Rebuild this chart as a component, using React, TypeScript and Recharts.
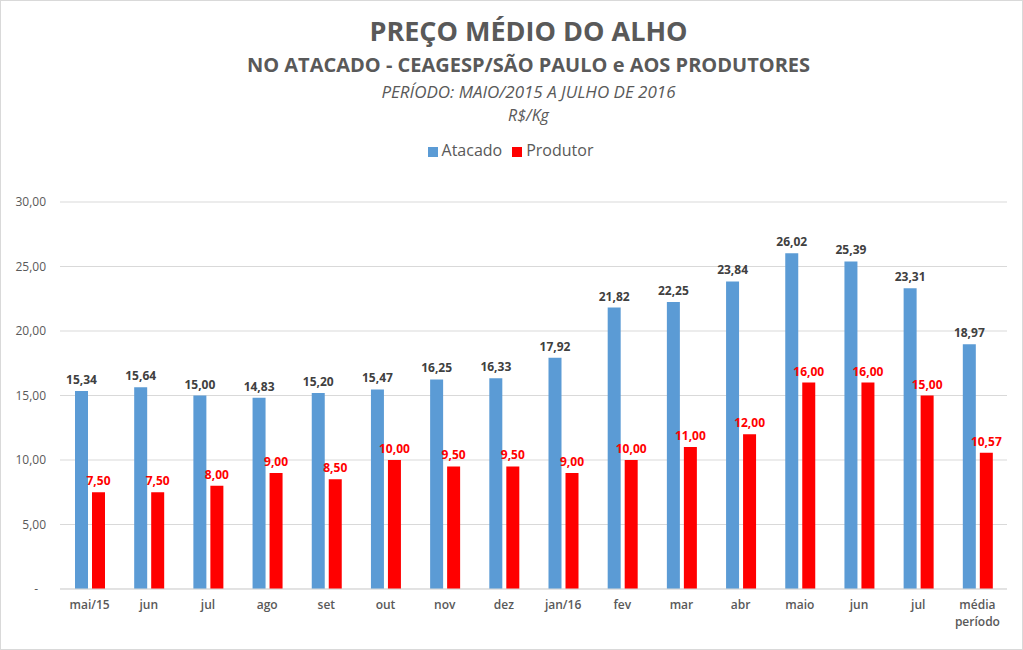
import React from "react";
import {
  BarChart,
  Bar,
  XAxis,
  YAxis,
  CartesianGrid,
  Legend,
  LabelList,
} from "recharts";

// meses do período (a última coluna é a média)
const categories = [
  "mai/15", "jun", "jul", "ago", "set", "out", "nov", "dez",
  "jan/16", "fev", "mar", "abr", "maio", "jun", "jul", "média período",
];
const atacado = [
  15.34, 15.64, 15.0, 14.83, 15.2, 15.47, 16.25, 16.33,
  17.92, 21.82, 22.25, 23.84, 26.02, 25.39, 23.31, 18.97,
];
const produtor = [
  7.5, 7.5, 8.0, 9.0, 8.5, 10.0, 9.5, 9.5,
  9.0, 10.0, 11.0, 12.0, 16.0, 16.0, 15.0, 10.57,
];
const yTicks = [0, 5, 10, 15, 20, 25, 30];

const data = categories.map((mes, i) => ({
  mes,
  Atacado: atacado[i],
  Produtor: produtor[i],
}));

const FONT = "'Open Sans', 'Noto Sans', sans-serif";
const GRAY = "#595959";

const fmt = (v: number) => v.toFixed(2).replace(".", ",");

const YTick = (props: any) => {
  const { x, y, payload } = props;
  const v = payload.value as number;
  return (
    <text
      x={v === 0 ? x - 8 : x}
      y={y}
      dy={4}
      textAnchor="end"
      fontSize={12}
      fill={GRAY}
      fontFamily={FONT}
    >
      {v === 0 ? "-" : fmt(v)}
    </text>
  );
};

const XTick = (props: any) => {
  const { x, y, payload } = props;
  const lines = String(payload.value).split(" ");
  return (
    <text
      x={x}
      y={y}
      textAnchor="middle"
      fontSize={12}
      fontWeight={600}
      fill={GRAY}
      fontFamily={FONT}
    >
      {lines.map((l, i) => (
        <tspan key={i} x={x} dy={i === 0 ? 12 : 17}>
          {l}
        </tspan>
      ))}
    </text>
  );
};

export default function App() {
  return (
    <div
      style={{
        position: "absolute",
        left: 0,
        top: 0,
        width: 1023,
        height: 650,
        boxSizing: "border-box",
        border: "1px solid #d9d9d9",
        background: "#fff",
        fontFamily: FONT,
        color: GRAY,
      }}
    >
      <div
        style={{
          position: "absolute",
          top: 11,
          left: 32,
          width: 991,
          textAlign: "center",
        }}
      >
        <div style={{ fontSize: 27, fontWeight: 700, lineHeight: "38px" }}>
          PREÇO MÉDIO DO ALHO
        </div>
        <div style={{ fontSize: 20, fontWeight: 700, lineHeight: "30px" }}>
          NO ATACADO - CEAGESP/SÃO PAULO e AOS PRODUTORES
        </div>
        <div style={{ fontSize: 17, fontStyle: "italic", lineHeight: "24px" }}>
          PERÍODO: MAIO/2015 A JULHO DE 2016
        </div>
        <div style={{ fontSize: 16, fontStyle: "italic", lineHeight: "22px" }}>
          R$/Kg
        </div>
      </div>
      <div style={{ position: "absolute", left: -1, top: -1 }}>
        <BarChart
          width={1023}
          height={650}
          data={data}
          margin={{ top: 180, right: 16, bottom: 21, left: 0 }}
          barSize={13}
          barGap={4}
        >
          <CartesianGrid vertical={false} stroke="#d9d9d9" />
          <XAxis
            dataKey="mes"
            axisLine={{ stroke: "#d9d9d9" }}
            tickLine={false}
            height={40}
            interval={0}
            tick={<XTick />}
          />
          <YAxis
            domain={[0, 30]}
            ticks={yTicks}
            width={60}
            axisLine={false}
            tickLine={false}
            tickMargin={8}
            tick={<YTick />}
          />
          <Legend
            verticalAlign="top"
            align="center"
            iconType="square"
            iconSize={10}
            wrapperStyle={{ top: 139, left: 4, width: 1023 }}
            formatter={(value: string) => (
              <span style={{ color: GRAY, fontSize: 16, fontFamily: FONT }}>{value}</span>
            )}
          />
          <Bar dataKey="Atacado" fill="#5B9BD5" isAnimationActive={false}>
            <LabelList
              dataKey="Atacado"
              position="top"
              offset={7}
              formatter={(v: any) => fmt(Number(v))}
              fill="#404040"
              fontSize={12}
              fontWeight={700}
              fontFamily={FONT}
            />
          </Bar>
          <Bar dataKey="Produtor" fill="#FF0000" isAnimationActive={false}>
            <LabelList
              dataKey="Produtor"
              position="top"
              offset={7}
              formatter={(v: any) => fmt(Number(v))}
              fill="#FF0000"
              fontSize={12}
              fontWeight={700}
              fontFamily={FONT}
            />
          </Bar>
        </BarChart>
      </div>
    </div>
  );
}
